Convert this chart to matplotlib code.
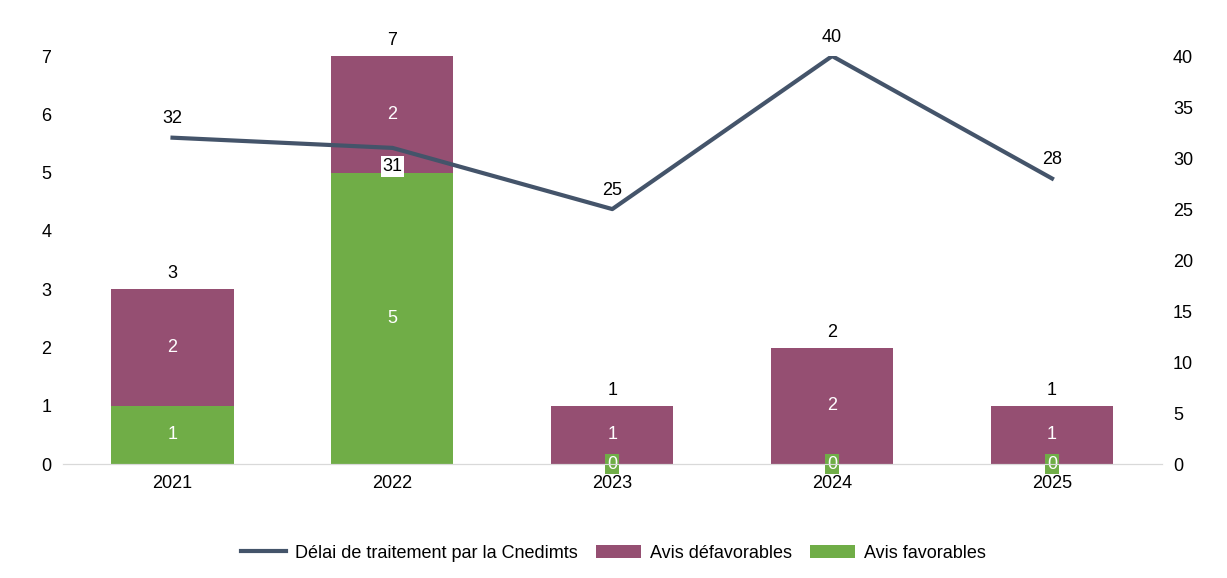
import numpy as np
import matplotlib.pyplot as plt

plt.rcParams['font.family'] = ['Liberation Sans', 'DejaVu Sans']

years = ['2021', '2022', '2023', '2024', '2025']
favorables = [1, 5, 0, 0, 0]
defavorables = [2, 2, 1, 2, 1]
delai = [32, 31, 25, 40, 28]

purple = '#954F72'
green = '#70AD47'
navy = '#44546A'

fig = plt.figure(figsize=(12.27, 5.78), dpi=100)
ax = fig.add_axes([0.051, 0.197, 0.896, 0.706])
ax2 = ax.twinx()
x = np.arange(len(years))
w = 0.555

ax.bar(x, favorables, w, color=green, label='Avis favorables', zorder=2)
ax.bar(x, defavorables, w, bottom=favorables, color=purple, label='Avis défavorables', zorder=2)

for i in range(len(years)):
    f, d = favorables[i], defavorables[i]
    if f > 0:
        ax.text(x[i], f / 2, str(f), ha='center', va='center', color='white', fontsize=13)
    else:
        ax.text(x[i], 0, '0', ha='center', va='center', color='white', fontsize=13,
                bbox=dict(boxstyle='square,pad=0.1', fc=green, ec='none'))
    ax.text(x[i], f + d / 2, str(d), ha='center', va='center', color='white', fontsize=13)
    ax.text(x[i], f + d + 0.12, str(f + d), ha='center', va='bottom', fontsize=13)

ax.set_ylim(0, 7)
ax.set_xlim(-0.5, len(years) - 0.5)
ax.set_xticks(x)
ax.set_xticklabels(years)
ax.set_yticks(range(8))

ax2.plot(x, delai, color=navy, lw=3, label='Délai de traitement par la Cnedimts', zorder=3)
ax2.set_ylim(0, 40)
ax2.set_yticks(range(0, 41, 5))
for i, v in enumerate(delai):
    if i == 1:
        ax2.text(x[i] + 0.0, v - 1.0, str(v), ha='center', va='top', fontsize=13,
                 bbox=dict(boxstyle='square,pad=0.1', fc='white', ec='none'))
    else:
        ax2.text(x[i], v + 1.0, str(v), ha='center', va='bottom', fontsize=13)

for a in (ax, ax2):
    a.tick_params(length=0, labelsize=13, pad=8)
    for s in ('top', 'left', 'right'):
        a.spines[s].set_visible(False)
    a.spines['bottom'].set_color('#D9D9D9')
ax.set_zorder(ax2.get_zorder() - 1) if False else None

h1, l1 = ax.get_legend_handles_labels()
h2, l2 = ax2.get_legend_handles_labels()
fig.legend(h2 + [h1[1], h1[0]], l2 + [l1[1], l1[0]], loc='lower center',
           bbox_to_anchor=(0.5, 0.0), ncol=3, frameon=False, fontsize=13,
           handlelength=2.5, columnspacing=1.0, handletextpad=0.5)

fig.savefig('out.png', dpi=100)
